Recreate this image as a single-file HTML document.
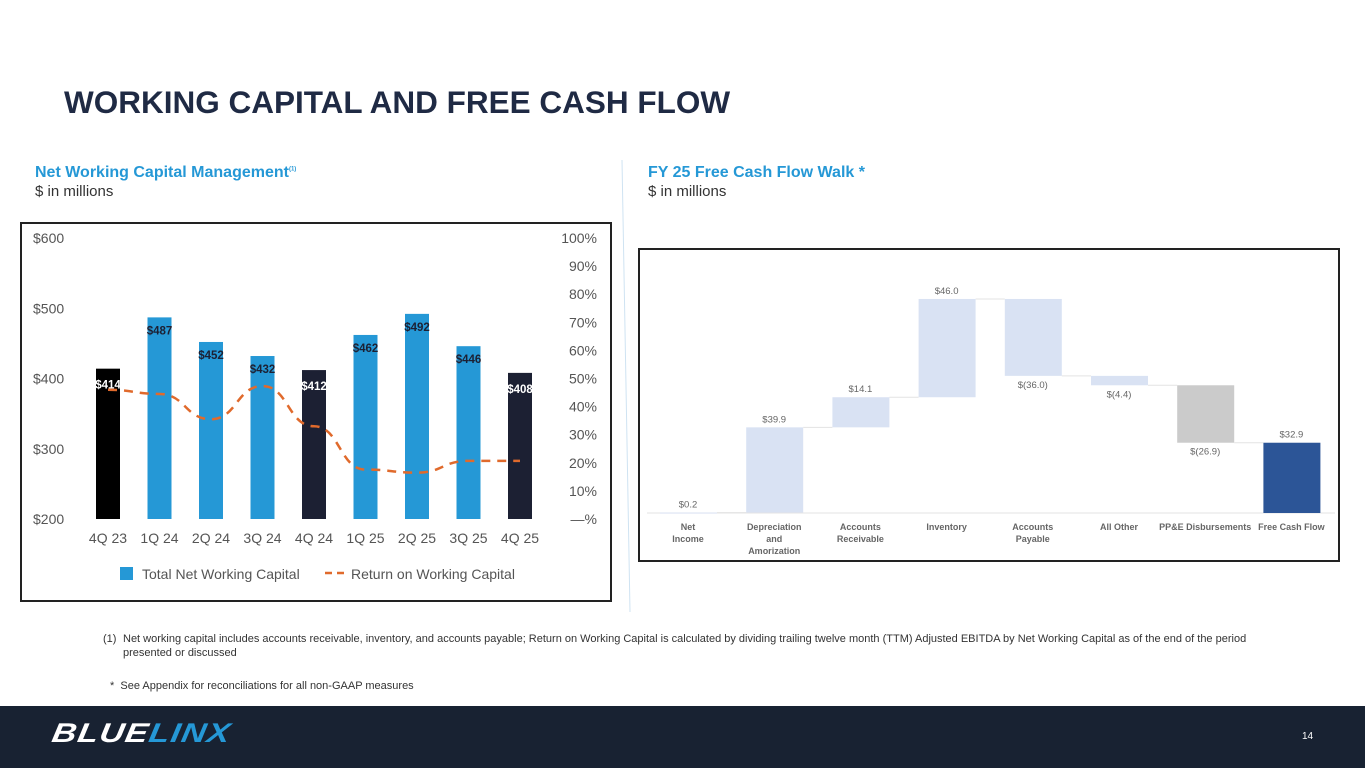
<!DOCTYPE html>
<html><head><meta charset="utf-8"><style>
body{margin:0;width:1365px;height:768px;position:relative;background:#fff;font-family:"Liberation Sans",sans-serif;overflow:hidden}
.abs{position:absolute}
</style></head><body>
<div class="abs" style="left:64px;top:84px;font-size:31.5px;font-weight:bold;color:#1f2a44">WORKING CAPITAL AND FREE CASH FLOW</div>
<div class="abs" style="left:35px;top:164px;font-size:16px;color:#2598d6;font-weight:bold">Net Working Capital Management<sup style="font-size:6px">(1)</sup></div>
<div class="abs" style="left:35px;top:183px;font-size:15px;color:#333">$ in millions</div>
<div class="abs" style="left:648px;top:164px;font-size:16px;color:#2598d6;font-weight:bold">FY 25 Free Cash Flow Walk *</div>
<div class="abs" style="left:648px;top:183px;font-size:15px;color:#333">$ in millions</div>
<svg class="abs" style="left:0;top:0" width="1365" height="768">
<line x1="622" y1="160" x2="630" y2="612" stroke="#cfe3f2" stroke-width="1"/>
<rect x="21" y="223" width="590" height="378" fill="none" stroke="#222" stroke-width="2"/>
<g id="nwc"></g>
<rect x="639" y="249" width="700" height="312" fill="none" stroke="#222" stroke-width="2"/>
<g id="wf"></g>
</svg>
<div class="abs" style="left:103px;top:632px;width:1200px;font-size:11px;color:#333;line-height:14px"><span style="display:inline-block;width:20px">(1)</span>Net working capital includes accounts receivable, inventory, and accounts payable; Return on Working Capital is calculated by dividing trailing twelve month (TTM) Adjusted EBITDA by Net Working Capital as of the end of the period<br><span style="display:inline-block;width:20px"></span>presented or discussed</div>
<div class="abs" style="left:110px;top:680px;font-size:11px;color:#333">*&nbsp; See Appendix for reconciliations for all non-GAAP measures</div>
<div class="abs" style="left:0;top:706px;width:1365px;height:62px;background:#182232"></div>
<div class="abs" style="left:55px;top:718px;font-size:27px;font-weight:900;font-style:italic;letter-spacing:1px;color:#fff;transform-origin:0 0;transform:scaleX(1.25) skewX(-8deg)">BLUE<span style="color:#2598d6">LINX</span></div>
<div class="abs" style="left:1302px;top:731px;font-size:10px;color:#fff">14</div>
<script>
const NS="http://www.w3.org/2000/svg";
function mk(p,t,a){const e=document.createElementNS(NS,t);for(const k in a)e.setAttribute(k,a[k]);p.appendChild(e);return e;}
const quarters=["4Q 23","1Q 24","2Q 24","3Q 24","4Q 24","1Q 25","2Q 25","3Q 25","4Q 25"];
const nwc=[414,487,452,432,412,462,492,446,408];
const rowc=[46,44.5,35.5,47.3,33,17.6,16.5,20.7,20.7];
const barColors=["#000000","#2598d6","#2598d6","#2598d6","#1c2033","#2598d6","#2598d6","#2598d6","#1c2033"];
const leftTicks=["$200","$300","$400","$500","$600"];
const leftTickVals=[200,300,400,500,600];
const rightTickVals=[0,10,20,30,40,50,60,70,80,90,100];
const g=document.getElementById("nwc");
const yL=v=>519-(v-200)*281/400, yR=v=>519-v*2.81, xC=i=>108+i*51.5;
leftTickVals.forEach((v,i)=>{const t=mk(g,"text",{x:33,y:yL(v)+5,"font-size":14,fill:"#555"});t.textContent=leftTicks[i];
});
rightTickVals.forEach(v=>{const t=mk(g,"text",{x:597,y:yR(v)+5,"font-size":14,fill:"#555","text-anchor":"end"});t.textContent=v===0?"—%":v+"%";
});
nwc.forEach((v,i)=>{const r=mk(g,"rect",{x:xC(i)-12,y:yL(v),width:24,height:519-yL(v),fill:barColors[i]});

const dark=barColors[i]!=="#2598d6";
const t=mk(g,"text",{x:xC(i),y:yL(v)+(dark?20:17),"font-size":11.5,"font-weight":"bold",fill:dark?"#fff":"#1c2033","text-anchor":"middle"});t.textContent="$"+v;

const q=mk(g,"text",{x:xC(i),y:543,"font-size":14,fill:"#555","text-anchor":"middle"});q.textContent=quarters[i];
});
let d="M"+xC(0)+","+yR(rowc[0]);
for(let i=1;i<rowc.length;i++){const x0=xC(i-1),x1=xC(i),m=(x0+x1)/2;d+=` C${m},${yR(rowc[i-1])} ${m},${yR(rowc[i])} ${x1},${yR(rowc[i])}`;}
const ln=mk(g,"path",{d:d,fill:"none",stroke:"#e06a2c","stroke-width":2.5,"stroke-dasharray":"9,7"});

const lg1=mk(g,"rect",{x:120,y:567,width:13,height:13,fill:"#2598d6"});
const lt1=mk(g,"text",{x:142,y:579,"font-size":14,fill:"#555"});lt1.textContent="Total Net Working Capital";
const lg2=mk(g,"line",{x1:325,y1:573,x2:347,y2:573,stroke:"#e06a2c","stroke-width":2.5,"stroke-dasharray":"7,5"});
const lt2=mk(g,"text",{x:351,y:579,"font-size":14,fill:"#555"});lt2.textContent="Return on Working Capital";
const wfCats=[["Net","Income"],["Depreciation","and","Amorization"],["Accounts","Receivable"],["Inventory"],["Accounts","Payable"],["All Other"],["PP&E Disbursements"],["Free Cash Flow"]];
const wfVals=[0.2,39.9,14.1,46.0,-36.0,-4.4,-26.9,32.9];
const wfLabels=["$0.2","$39.9","$14.1","$46.0","$(36.0)","$(4.4)","$(26.9)","$32.9"];
const w=document.getElementById("wf");
const wy=v=>513-v*2.136, wx=i=>688+i*86.2;
mk(w,"line",{x1:647,y1:513,x2:1335,y2:513,stroke:"#e3e3e3","stroke-width":1});
let cum=0;
wfVals.forEach((v,i)=>{let a,b,fill;const last=i===wfVals.length-1;
if(last){a=0;b=v;fill="#2c5597";}else{a=cum;b=cum+v;cum=b;fill=i===6?"#cbcbcb":"#d9e2f3";}
const top=Math.max(a,b),bot=Math.min(a,b);
const r=mk(w,"rect",{x:wx(i)-28,y:wy(top),width:57,height:Math.max(1,wy(bot)-wy(top)),fill:fill});

if(!last){mk(w,"line",{x1:wx(i)+29,y1:wy(cum),x2:wx(i+1)-28,y2:wy(cum),stroke:"#e3e3e3","stroke-width":1});}
const ly=v>=0?wy(top)-5:wy(bot)+12;
const t=mk(w,"text",{x:wx(i),y:ly,"font-size":9.5,fill:"#666","text-anchor":"middle"});t.textContent=wfLabels[i];

wfCats[i].forEach((s,j)=>{const c=mk(w,"text",{x:wx(i),y:530+j*12,"font-size":9,"font-weight":"bold",fill:"#666","text-anchor":"middle"});c.textContent=s;
});
});
</script>
</body></html>
